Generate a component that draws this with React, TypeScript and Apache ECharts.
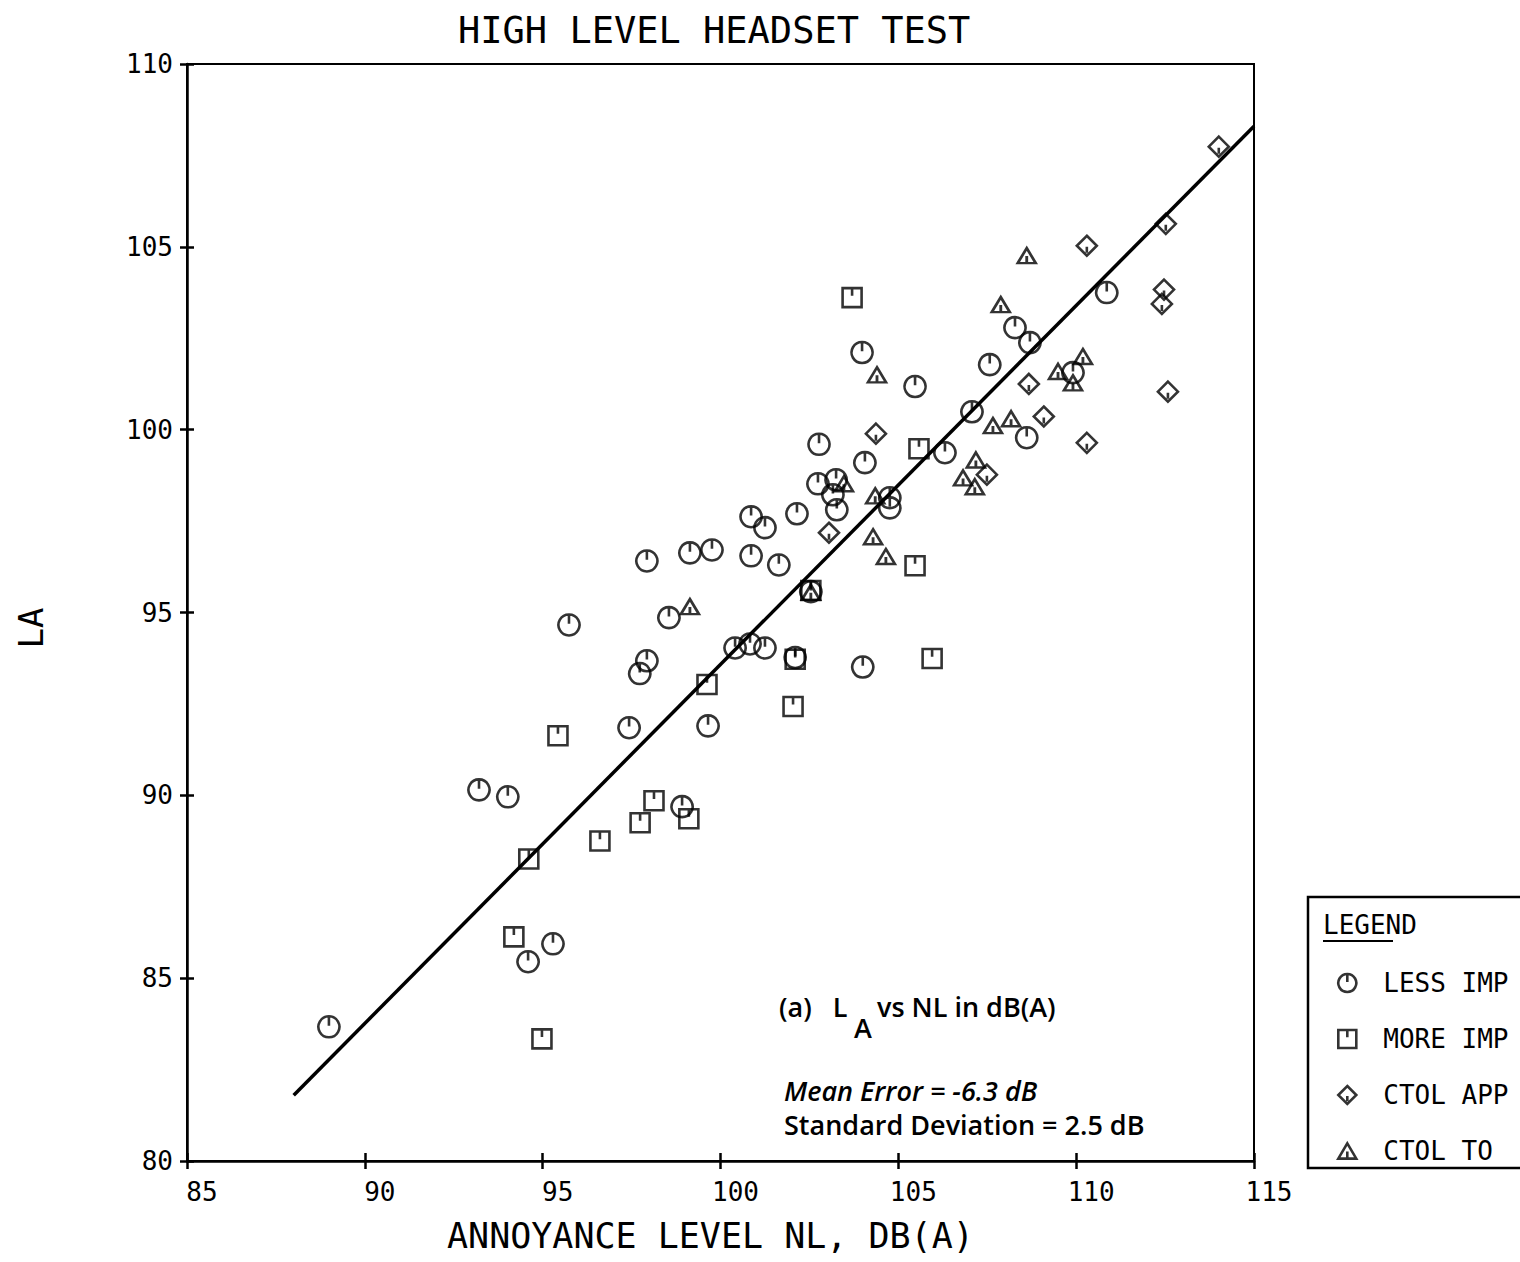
import React, { useEffect, useRef } from "react";
import * as echarts from "echarts";

// Headset test results: [annoyance level NL dB(A), LA]
const lessImp: [number, number][] = [
  [88.99, 83.67], [93.21, 90.15], [94.02, 89.96], [94.59, 85.45], [95.29, 85.94],
  [95.74, 94.66], [97.43, 91.85], [97.73, 93.33], [97.93, 93.68], [97.93, 96.41],
  [98.55, 94.86], [98.92, 89.69], [99.14, 96.63], [99.65, 91.9], [99.76, 96.71],
  [100.41, 94.03], [100.83, 94.14], [100.86, 96.55], [100.86, 97.62], [101.25, 94.03],
  [101.25, 97.32], [101.64, 96.3], [102.1, 93.77], [102.15, 97.7], [102.54, 95.57],
  [102.74, 98.52], [102.77, 99.6], [103.16, 98.22], [103.25, 98.63], [103.27, 97.81],
  [103.98, 102.11], [104.0, 93.51], [104.06, 99.1], [104.76, 98.14], [104.76, 97.86],
  [105.47, 101.18], [106.31, 99.37], [107.07, 100.49], [107.57, 101.78], [108.28, 102.79],
  [108.61, 99.78], [108.7, 102.38], [109.91, 101.56], [110.86, 103.75],
];

const moreImp: [number, number][] = [
  [94.19, 86.13], [94.61, 88.26], [94.98, 83.34], [95.43, 91.63], [96.61, 88.75],
  [97.74, 89.25], [98.13, 89.85], [99.11, 89.36], [99.62, 93.03], [102.04, 92.43],
  [102.1, 93.72], [102.54, 95.6], [103.7, 103.61], [105.47, 96.28], [105.58, 99.48],
  [105.95, 93.74],
];

const ctolApp: [number, number][] = [
  [103.05, 97.18], [104.37, 99.89], [107.49, 98.77], [108.67, 101.25], [109.09, 100.36],
  [110.3, 99.64], [110.3, 105.03], [112.41, 103.44], [112.47, 103.83], [112.52, 105.63],
  [112.58, 101.04], [114.01, 107.74],
];

const ctolTo: [number, number][] = [
  [99.14, 95.16], [102.54, 95.55], [103.47, 98.52], [104.29, 97.07], [104.35, 98.19],
  [104.4, 101.5], [104.65, 96.53], [106.82, 98.68], [107.15, 98.44], [107.18, 99.17],
  [107.66, 100.11], [107.88, 103.42], [108.17, 100.3], [108.61, 104.76], [109.49, 101.59],
  [109.91, 101.28], [110.19, 102.0],
];

// Least-squares fit line end points
const fitLine: [number, number][] = [
  [88.0, 81.8],
  [115.0, 108.3],
];

const xTickValues = [85, 90, 95, 100, 105, 110, 115];
const yTickValues = [80, 85, 90, 95, 100, 105, 110];

const seriesNames = ["LESS IMP", "MORE IMP", "CTOL APP", "CTOL TO"];

const MONO = "DejaVu Sans Mono";
const SANS = "Open Sans";

// Plotter-style outline symbols with a small centre stroke
const SYM_CIRCLE = "path://M10 1A9 9 0 1 1 9.99 1ZM10 1L10 9";
const SYM_SQUARE = "path://M0 0L20 0L20 20L0 20ZM10 0L10 8";
const SYM_DIAMOND = "path://M10 0L20 10L10 20L0 10ZM10 11L10 17";
const SYM_TRIANGLE = "path://M10 0L20 17L0 17ZM10 9L10 17";

const outline = { color: "transparent", borderColor: "#000", borderWidth: 2.6 };

export default function App() {
  const ref = useRef<HTMLDivElement>(null);

  useEffect(() => {
    if (!ref.current) return;
    const chart = echarts.init(ref.current, undefined, { renderer: "svg" });

    const axisCommon = {
      type: "value" as const,
      interval: 5,
      splitLine: { show: false },
    };

    const option: any = {
      animation: false,
      backgroundColor: "#fff",
      grid: {
        left: 187,
        right: 266,
        top: 64,
        bottom: 101,
        show: true,
        borderColor: "#000",
        borderWidth: 2,
      },
      xAxis: [
        {
          ...axisCommon,
          min: xTickValues[0],
          max: xTickValues[xTickValues.length - 1],
          position: "bottom",
          axisLine: { show: true, lineStyle: { color: "#000", width: 2.5 } },
          axisTick: { show: true, length: 8, lineStyle: { color: "#000", width: 2.5 } },
          axisLabel: {
            color: "#000",
            fontFamily: MONO,
            fontSize: 26,
            margin: 18,
            padding: [0, 0, 0, 30],
          },
        },
        {
          ...axisCommon,
          min: xTickValues[0],
          max: xTickValues[xTickValues.length - 1],
          position: "bottom",
          axisLine: { show: false },
          axisTick: { show: true, inside: true, length: 8, lineStyle: { color: "#000", width: 2.5 } },
          axisLabel: { show: false },
        },
      ],
      yAxis: [
        {
          ...axisCommon,
          min: yTickValues[0],
          max: yTickValues[yTickValues.length - 1],
          position: "left",
          axisLine: { show: true, lineStyle: { color: "#000", width: 2.5 } },
          axisTick: { show: true, length: 7, lineStyle: { color: "#000", width: 2.5 } },
          axisLabel: { color: "#000", fontFamily: MONO, fontSize: 26, margin: 14 },
        },
        {
          ...axisCommon,
          min: yTickValues[0],
          max: yTickValues[yTickValues.length - 1],
          position: "left",
          axisLine: { show: false },
          axisTick: { show: true, inside: true, length: 7, lineStyle: { color: "#000", width: 2.5 } },
          axisLabel: { show: false },
        },
      ],
      legend: {
        data: seriesNames,
        orient: "vertical",
        left: 1332,
        top: 963,
        itemWidth: 18,
        itemHeight: 18,
        itemGap: 26,
        selectedMode: false,
        itemStyle: outline,
        textStyle: {
          color: "#000",
          fontFamily: MONO,
          fontSize: 26,
          lineHeight: 30,
          padding: [0, 0, 0, 22],
        },
      },
      series: [
        {
          name: "fit",
          type: "line",
          data: fitLine,
          showSymbol: false,
          lineStyle: { color: "#000", width: 3.5 },
          z: 1,
        },
        {
          name: seriesNames[0],
          type: "scatter",
          data: lessImp,
          symbol: SYM_CIRCLE,
          symbolSize: 21,
          itemStyle: outline,
          z: 3,
        },
        {
          name: seriesNames[1],
          type: "scatter",
          data: moreImp,
          symbol: SYM_SQUARE,
          symbolSize: 19,
          itemStyle: outline,
          z: 3,
        },
        {
          name: seriesNames[2],
          type: "scatter",
          data: ctolApp,
          symbol: SYM_DIAMOND,
          symbolSize: 20,
          itemStyle: outline,
          z: 3,
        },
        {
          name: seriesNames[3],
          type: "scatter",
          data: ctolTo,
          symbol: SYM_TRIANGLE,
          symbolSize: [18, 15],
          itemStyle: outline,
          z: 3,
        },
      ],
      graphic: [
        {
          type: "text",
          left: 458,
          top: 12,
          style: { text: "HIGH LEVEL HEADSET TEST", fontFamily: MONO, fontSize: 37, fill: "#000" },
        },
        {
          type: "text",
          left: 447,
          top: 1218,
          style: { text: "ANNOYANCE LEVEL NL, DB(A)", fontFamily: MONO, fontSize: 35, fill: "#000" },
        },
        {
          type: "text",
          x: 31,
          y: 628,
          rotation: Math.PI / 2,
          style: {
            text: "LA",
            fontFamily: MONO,
            fontSize: 34,
            fill: "#000",
            align: "center",
            verticalAlign: "middle",
          },
        },
        // annotation block
        {
          type: "text",
          x: 779,
          y: 1006,
          style: {
            text: "(a)   L",
            fontFamily: SANS,
            fontSize: 27,
            fontWeight: 600,
            fill: "#000",
            verticalAlign: "middle",
          },
        },
        {
          type: "text",
          x: 854,
          y: 1027,
          style: {
            text: "A",
            fontFamily: SANS,
            fontSize: 27,
            fontWeight: 600,
            fill: "#000",
            verticalAlign: "middle",
          },
        },
        {
          type: "text",
          x: 877,
          y: 1006,
          style: {
            text: "vs NL in dB(A)",
            fontFamily: SANS,
            fontSize: 27,
            fontWeight: 600,
            fill: "#000",
            verticalAlign: "middle",
          },
        },
        {
          type: "text",
          x: 784,
          y: 1090,
          style: {
            text: "Mean Error = -6.3 dB",
            fontFamily: SANS,
            fontSize: 27,
            fontStyle: "italic",
            fontWeight: 600,
            fill: "#000",
            verticalAlign: "middle",
          },
        },
        {
          type: "text",
          x: 784,
          y: 1124,
          style: {
            text: "Standard Deviation = 2.5 dB",
            fontFamily: SANS,
            fontSize: 27,
            fontWeight: 600,
            fill: "#000",
            verticalAlign: "middle",
          },
        },
        // legend frame
        {
          type: "rect",
          shape: { x: 1308, y: 897, width: 240, height: 271 },
          style: { fill: "none", stroke: "#000", lineWidth: 2.5 },
        },
        {
          type: "text",
          x: 1323,
          y: 925,
          style: {
            text: "LEGEND",
            fontFamily: MONO,
            fontSize: 26,
            fill: "#000",
            verticalAlign: "middle",
          },
        },
        {
          type: "line",
          shape: { x1: 1323, y1: 941, x2: 1393, y2: 941 },
          style: { stroke: "#000", lineWidth: 2 },
        },
      ],
    };

    chart.setOption(option);
    return () => chart.dispose();
  }, []);

  return (
    <div
      ref={ref}
      style={{ position: "absolute", left: 0, top: 0, width: 1520, height: 1262 }}
    />
  );
}
